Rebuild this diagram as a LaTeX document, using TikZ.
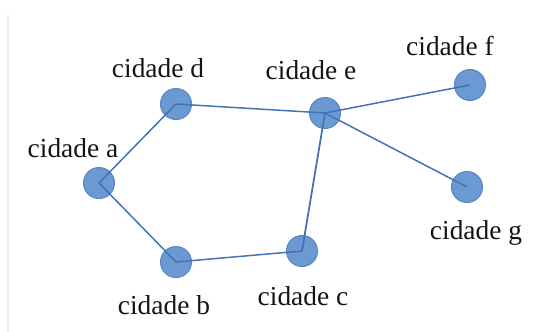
\documentclass[tikz,border=0pt]{standalone}
\usepackage{fontspec}
\setmainfont{Liberation Serif}
\usepackage{tikz}

\definecolor{cityfill}{HTML}{6B99D1}
\definecolor{cityedge}{HTML}{5A86C2}
\definecolor{roadblue}{HTML}{4472B6}

\tikzset{
  city/.style={circle, fill=cityfill, draw=cityedge, line width=0.6pt, minimum size=0.62cm, inner sep=0pt},
  cityname/.style={font=\fontsize{15.6}{18}\selectfont, text=black!92},
  road/.style={roadblue, line width=0.85pt}
}

\begin{document}
\begin{tikzpicture}[x=0.02cm, y=-0.02cm]
        \useasboundingbox (0,0) rectangle (539,332);
        % thin rule on the left
        \draw[black!7, line width=0.8pt] (8,15) -- (8,332);

        % cities
        \node[city] (a) at (99,183) {};
        \node[city] (d) at (176,104) {};
        \node[city] (e) at (325,113) {};
        \node[city] (f) at (470,85) {};
        \node[city] (g) at (467,187) {};
        \node[city] (b) at (176,262) {};
        \node[city] (c) at (302,251) {};

        % names of the cities
        \node[cityname] (la) at (73,148) {cidade a};
        \node[cityname] (ld) at (158,68) {cidade d};
        \node[cityname] (le) at (311,70) {cidade e};
        \node[cityname] (lf) at (450,46) {cidade f};
        \node[cityname] (lg) at (476,233) {cidade g};
        \node[cityname] (lb) at (164,305) {cidade b};
        \node[cityname] (lc) at (303,296) {cidade c};

        % roads between the cities
        \draw[road] (a.center) -- (d.center);
        \draw[road] (d.center) -- (e.center);
        \draw[road] (e.center) -- (f.center);
        \draw[road] (e.center) -- (g.center);
        \draw[road, line width=1pt] (e.center) -- (c.center);
        \draw[road] (c.center) -- (b.center);
        \draw[road] (b.center) -- (a.center);
    \end{tikzpicture}
\end{document}
